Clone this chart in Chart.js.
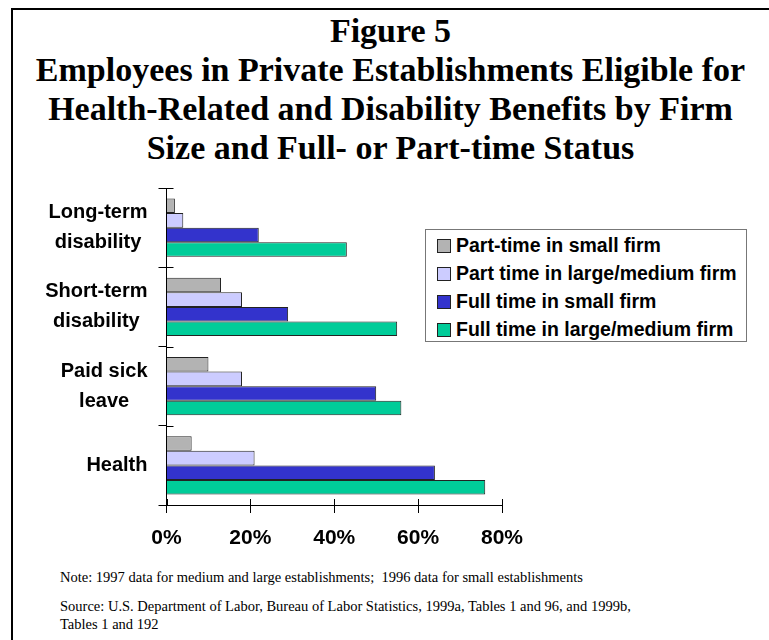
<!DOCTYPE html>
<html>
<head>
<meta charset="utf-8">
<script src="https://cdn.jsdelivr.net/npm/chart.js@4.4.1/dist/chart.umd.min.js"></script>
<style>
  html, body { margin: 0; padding: 0; background: #fff; }
  #page { position: relative; width: 769px; height: 640px; overflow: hidden; }
  #frame { position: absolute; left: 11px; top: 8px; width: 800px; height: 700px;
           border-left: 2.5px solid #000; border-top: 2.5px solid #000; }
  #title { position: absolute; left: 12px; top: 11px; width: 757px; text-align: center;
           font-family: "Liberation Serif", "Times New Roman", serif; font-weight: bold;
           font-size: 34px; line-height: 39px; color: #000; }
  #chart-box { position: absolute; left: 0; top: 180px; width: 769px; height: 380px; }
  #legend { position: absolute; left: 425px; top: 229px; width: 322px; height: 113px;
            border: 1.5px solid #777; background: #fff; box-sizing: border-box;
            font-family: "Liberation Sans", Arial, sans-serif; font-weight: bold; font-size: 19.5px; }
  .item { position: absolute; left: 11px; height: 20px; line-height: 20px; white-space: nowrap; }
  .item span.sw { display: inline-block; width: 12px; height: 12px; border: 1px solid #222;
                  vertical-align: -1px; margin-right: 5px; }
  .note { position: absolute; left: 60px; font-family: "Liberation Serif", "Times New Roman", serif;
          font-size: 14.5px; line-height: 18px; color: #000; white-space: nowrap; }
</style>
</head>
<body>
<div id="page">
  <div id="frame"></div>
  <div id="title">Figure 5<br>Employees in Private Establishments Eligible for<br>Health-Related and Disability Benefits by Firm<br>Size and Full- or Part-time Status</div>
  <div id="chart-box"><canvas id="chart"></canvas></div>
  <div id="legend"></div>
  <div class="note" style="top:568px">Note: 1997 data for medium and large establishments;&nbsp; 1996 data for small establishments</div>
  <div class="note" style="top:597px">Source: U.S. Department of Labor, Bureau of Labor Statistics, 1999a, Tables 1 and 96, and 1999b,<br>Tables 1 and 192</div>
</div>
<script>
// categorias (de cima para baixo)
const categories = [['Long-term', 'disability'], ['Short-term', 'disability'], ['Paid sick', 'leave'], ['Health']];

// séries (% de empregados elegíveis)
const seriesNames = ['Part-time in small firm', 'Part time in large/medium firm', 'Full time in small firm', 'Full time in large/medium firm'];
const partSmall = [2, 13, 10, 6];
const partLarge = [4, 18, 18, 21];
const fullSmall = [22, 29, 50, 64];
const fullLarge = [43, 55, 56, 76];
const seriesColors = ['#b3b3b3', '#ccccff', '#3333cc', '#00cc99'];

// eixo x
const xMin = 0, xMax = 80, xStep = 20;

const values = [partSmall, partLarge, fullSmall, fullLarge];

// legenda em html, por cima da área do gráfico
const legendEl = document.getElementById('legend');
seriesNames.forEach(function(name, i) {
    const div = document.createElement('div');
    div.className = 'item';
    div.style.top = (5 + i * 28) + 'px';
    div.innerHTML = '<span class="sw" style="background:' + seriesColors[i] + '"></span>' + name;
    legendEl.appendChild(div);
});

// ticks que cruzam os eixos + rótulos das categorias centrados linha a linha
const axisExtras = {
    id: 'axisExtras',
    afterDraw(chart) {
        const ctx = chart.ctx;
        const sx = chart.scales.x, sy = chart.scales.y;
        ctx.save();
        ctx.strokeStyle = '#000';
        ctx.lineWidth = 1;
        sx.ticks.forEach(function(t) {
            const px = Math.round(sx.getPixelForValue(t.value)) + 0.5;
            ctx.beginPath(); ctx.moveTo(px, sy.bottom - 6); ctx.lineTo(px, sy.bottom); ctx.stroke();
        });
        for (let i = 0; i <= categories.length; i++) {
            const py = Math.round(sy.getPixelForValue(i - 0.5)) + 0.5;
            ctx.beginPath(); ctx.moveTo(sx.left, py); ctx.lineTo(sx.left + 7, py); ctx.stroke();
        }
        ctx.fillStyle = '#000';
        ctx.font = 'bold 20px "Liberation Sans", Arial, sans-serif';
        ctx.textAlign = 'center';
        ctx.textBaseline = 'middle';
        const rightEdge = sx.left - 19;
        categories.forEach(function(lines, i) {
            const w = Math.max.apply(null, lines.map(l => ctx.measureText(l).width));
            const cx = rightEdge - w / 2;
            const cy = sy.getPixelForValue(i);
            lines.forEach(function(l, k) {
                ctx.fillText(l, cx, cy + (k - (lines.length - 1) / 2) * 30);
            });
        });
        ctx.restore();
    }
};

new Chart(document.getElementById('chart').getContext('2d'), {
    type: 'bar',
    data: {
        labels: categories,
        datasets: seriesNames.map(function(name, i) {
            return {
                label: name,
                data: values[i],
                backgroundColor: seriesColors[i],
                borderColor: '#222',
                borderWidth: 1,
                barPercentage: 1.0,
                categoryPercentage: 0.735
            };
        })
    },
    options: {
        indexAxis: 'y',
        responsive: true,
        maintainAspectRatio: false,
        animation: false,
        layout: { padding: { top: 8, right: 267, left: 0, bottom: 0 } },
        plugins: { legend: { display: false }, tooltip: { enabled: false } },
        scales: {
            x: {
                min: xMin, max: xMax,
                ticks: {
                    stepSize: xStep,
                    callback: v => v + '%',
                    color: '#000',
                    padding: 13,
                    maxRotation: 0,
                    font: { family: '"Liberation Sans Narrow", "Arial Narrow", "Liberation Sans", Arial, sans-serif', size: 21, weight: 'bold' }
                },
                grid: { drawOnChartArea: false, tickLength: 8, color: '#000' },
                border: { color: '#000', width: 1 },
                afterFit: s => { s.height = 55; }
            },
            y: {
                ticks: { display: false },
                grid: { drawOnChartArea: false, tickLength: 8, color: '#000', offset: true },
                border: { color: '#000', width: 1 },
                afterFit: s => { s.width = 166.5; }
            }
        }
    },
    plugins: [axisExtras]
});
</script>
</body>
</html>
